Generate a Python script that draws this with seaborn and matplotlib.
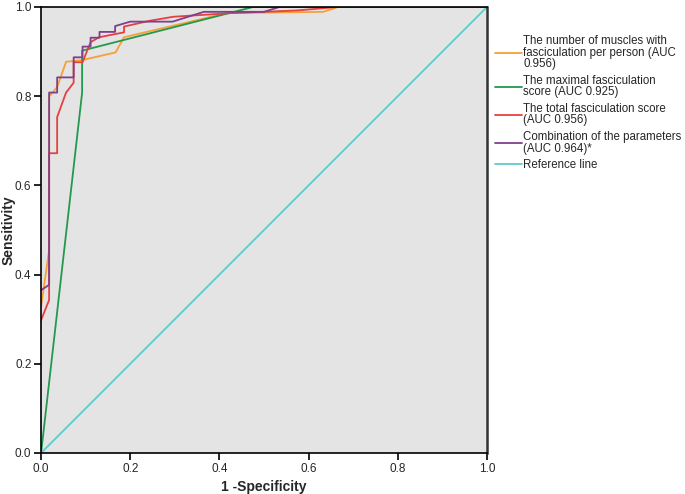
"""
ROC curves for fasciculation parameters
"""

import matplotlib

matplotlib.use("Agg")
import matplotlib.pyplot as plt
import pandas as pd
import seaborn as sns

########
# Data #
########

muscles_fpr = [0.0, 0.018, 0.018, 0.036, 0.056, 0.093, 0.167, 0.186, 0.416, 0.633, 0.667, 1.0]
muscles_tpr = [0.328, 0.455, 0.799, 0.82, 0.877, 0.881, 0.898, 0.932, 0.986, 0.989, 1.0, 1.0]

maximal_fpr = [0.0, 0.092, 0.092, 0.476, 1.0]
maximal_tpr = [0.0, 0.808, 0.902, 1.0, 1.0]

total_fpr = [0.0, 0.018, 0.018, 0.036, 0.036, 0.056, 0.073, 0.073, 0.093, 0.111, 0.13,
             0.186, 0.186, 0.244, 0.297, 0.424, 0.573, 0.666, 1.0]
total_tpr = [0.298, 0.343, 0.672, 0.672, 0.753, 0.808, 0.83, 0.876, 0.876, 0.921, 0.932,
             0.943, 0.956, 0.969, 0.978, 0.986, 0.992, 1.0, 1.0]

combo_fpr = [0.0, 0.018, 0.018, 0.036, 0.036, 0.073, 0.073, 0.093, 0.093, 0.111, 0.111,
             0.131, 0.131, 0.166, 0.166, 0.2, 0.295, 0.365, 0.5, 0.535, 1.0]
combo_tpr = [0.365, 0.377, 0.808, 0.808, 0.842, 0.842, 0.887, 0.887, 0.911, 0.911, 0.931,
             0.931, 0.944, 0.944, 0.957, 0.967, 0.967, 0.989, 0.989, 1.0, 1.0]

reference_fpr = [0.0, 1.0]
reference_tpr = [0.0, 1.0]

labels = [
    "The number of muscles with\nfasciculation per person (AUC\n0.956)",
    "The maximal fasciculation\nscore (AUC 0.925)",
    "The total fasciculation score\n(AUC 0.956)",
    "Combination of the parameters\n(AUC 0.964)*",
    "Reference line",
]
colors = ["#f7a035", "#23994f", "#e6403f", "#7d3f8e", "#5dcdcc"]

curves = [
    (muscles_fpr, muscles_tpr),
    (maximal_fpr, maximal_tpr),
    (total_fpr, total_tpr),
    (combo_fpr, combo_tpr),
    (reference_fpr, reference_tpr),
]
rocData = pd.concat(
    [
        pd.DataFrame({"fpr": fpr, "tpr": tpr, "curve": lab})
        for lab, (fpr, tpr) in zip(labels, curves)
    ],
    ignore_index=True,
)

#########
# Plots #
#########

sns.set_style("white")
plt.rcParams["font.family"] = ["Liberation Sans", "DejaVu Sans"]

fig = plt.figure(figsize=(6.85, 4.94), dpi=100)
ax = fig.add_axes([0.06, 0.083, 0.651, 0.903])
ax.set_facecolor("#e4e4e4")

sns.lineplot(
    data=rocData,
    x="fpr",
    y="tpr",
    hue="curve",
    hue_order=labels,
    palette=colors,
    sort=False,
    estimator=None,
    units="curve",
    linewidth=1.3,
    ax=ax,
)

ax.set_xlim(0, 1)
ax.set_ylim(0, 1)
ticks = [0, 0.2, 0.4, 0.6, 0.8, 1.0]
ax.set_xticks(ticks)
ax.set_yticks(ticks)
ax.set_xticklabels([f"{t:.1f}" for t in ticks])
ax.set_yticklabels([f"{t:.1f}" for t in ticks])
ax.tick_params(direction="out", length=5, width=1.2, labelsize=8.5, pad=2,
               bottom=True, left=True, color="black")
for side in ax.spines:
    ax.spines[side].set_color("black")
    ax.spines[side].set_linewidth(1.2)
ax.spines["right"].set_color("#333333")
ax.spines["right"].set_linewidth(1.8)

ax.set_xlabel("1 -Specificity", fontsize=10, fontweight="bold", va="center")
ax.set_ylabel("Sensitivity", fontsize=10, fontweight="bold", va="center")
ax.xaxis.set_label_coords(0.5, -0.077)
ax.yaxis.set_label_coords(-0.074, 0.5)

handles, _ = ax.get_legend_handles_labels()
leg = ax.legend(
    handles=handles,
    labels=labels,
    loc="upper left",
    bbox_to_anchor=(1.0, 0.955),
    frameon=False,
    fontsize=8.3,
    handlelength=2.3,
    handletextpad=0.15,
    labelspacing=0.4,
    borderaxespad=0.3,
)
for t in leg.get_texts():
    t.set_linespacing(0.95)

fig.savefig("out.png", dpi=100)
